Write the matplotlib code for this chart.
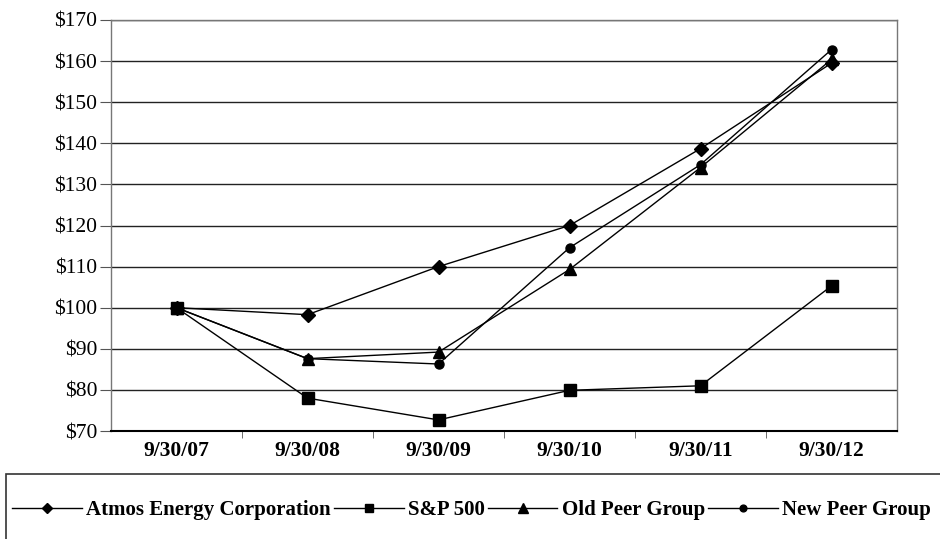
import matplotlib.pyplot as plt
from matplotlib.patches import Rectangle

plt.rcParams['font.family'] = ['Liberation Serif', 'DejaVu Serif']

dates = ['9/30/07', '9/30/08', '9/30/09', '9/30/10', '9/30/11', '9/30/12']
atmos = [100, 98.3, 110, 120, 138.7, 159.5]
sp500 = [100, 78, 72.7, 79.9, 81, 105.3]
old_peer = [100, 87.6, 89.2, 109.3, 134.1, 160.4]
new_peer = [100, 87.6, 86.3, 114.6, 134.8, 162.8]
y_ticks = list(range(70, 171, 10))

fig = plt.figure(figsize=(9.4, 5.39), dpi=100)
ax = fig.add_axes([111 / 940, 1 - 431 / 539, 786 / 940, 411 / 539])

x = list(range(len(dates)))
ax.plot(x, atmos, color='black', lw=1, marker='D', ms=7, label='Atmos Energy Corporation')
ax.plot(x, sp500, color='black', lw=1, marker='s', ms=8, label='S&P 500')
ax.plot(x, old_peer, color='black', lw=1, marker='^', ms=9, label='Old Peer Group')
ax.plot(x, new_peer, color='black', lw=1, marker='o', ms=6.5, label='New Peer Group')

ax.set_xlim(-0.5, 5.5)
ax.set_ylim(70, 170)
ax.set_yticks(y_ticks)
ax.set_yticklabels(['$%d' % v for v in y_ticks], fontsize=15.5)
ax.set_xticks(x)
ax.set_xticklabels(dates, fontsize=15.5, fontweight='bold')
ax.set_xticks([i + 0.5 for i in range(5)], minor=True)
ax.tick_params(axis='x', which='major', length=0, pad=7)
ax.tick_params(axis='x', which='minor', length=5, direction='out', color='#555555')
ax.tick_params(axis='y', length=8, direction='out', color='#555555', pad=2)

ax.grid(axis='y', color='#222222', lw=1)
ax.set_axisbelow(True)
for side in ['left', 'right', 'top']:
    ax.spines[side].set_color('#777777')
    ax.spines[side].set_linewidth(1)
ax.spines['bottom'].set_color('black')
ax.spines['bottom'].set_linewidth(1.5)

fig.patches.append(Rectangle((6 / 940, -0.05), 1.0, 1 - 474 / 539 + 0.05,
                             transform=fig.transFigure, fill=False,
                             edgecolor='#333333', lw=1.2))
handles, labels = ax.get_legend_handles_labels()
leg = fig.legend(handles, labels, loc='center left', ncol=4,
                 bbox_to_anchor=(12 / 940, 1 - 510 / 539), frameon=False,
                 prop={'size': 15, 'weight': 'bold'}, handlelength=3.35,
                 handletextpad=0.2, columnspacing=0.15, borderpad=0,
                 borderaxespad=0, markerscale=0.75)

fig.savefig('out.png', dpi=100)
